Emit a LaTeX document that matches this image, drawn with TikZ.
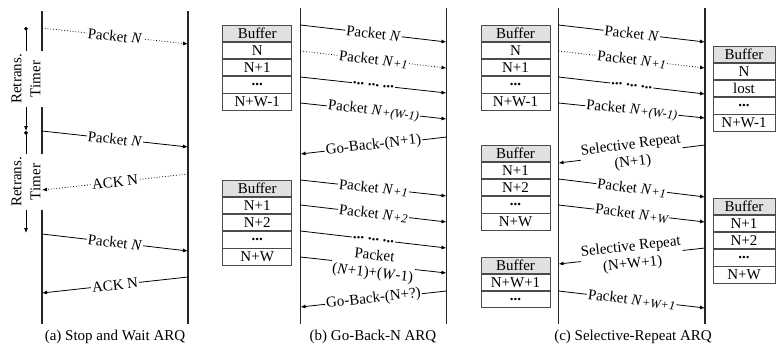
\documentclass[tikz,border=0pt]{standalone}
\usepackage{fontspec}
\setmainfont{Liberation Serif}
\usetikzlibrary{arrows.meta,positioning}
\newcommand\smi[1]{\raisebox{-0.8pt}{\fontsize{12.5}{13}\selectfont\itshape #1}}
\newcommand\dotgrp{{\bfseries ...\ ...\ ...}}
\begin{document}
\begin{tikzpicture}[x=1pt,y=-1pt,
  font=\rmfamily\fontsize{15}{16}\selectfont,
  life/.style={line width=1.2pt, black!85},
  msg/.style={line width=0.8pt, -{Latex[length=5pt,width=4pt]}},
  lbl/.style={sloped, fill=white, inner sep=1pt, midway},
  mlbl/.style={lbl, align=center, font=\rmfamily\fontsize{15}{17.5}\selectfont},
  timer/.style={line width=0.7pt, {Circle[length=3.6pt]}-{Latex[length=5pt,width=4pt]}},
  tlab/.style={rotate=90, fill=white, inner sep=3pt, align=center, midway, font=\rmfamily\fontsize{15}{19}\selectfont},
  cell/.style={draw=black!70, line width=0.9pt, minimum width=69pt, minimum height=16.2pt, inner sep=0pt, anchor=north},
  rcell/.style={cell, minimum width=62pt},
  hdr/.style={fill=black!12},
  captxt/.style={inner sep=0pt}]
\useasboundingbox (0,0) rectangle (776,349);

% ---------- lifelines ----------
\coordinate (aLt) at (42,11);  \coordinate (aLb) at (42,324);
\coordinate (aRt) at (188,11); \coordinate (aRb) at (188,324);
\coordinate (bLt) at (300.5,8); \coordinate (bLb) at (300.5,324);
\coordinate (bRt) at (446.5,8); \coordinate (bRb) at (446.5,324);
\coordinate (cLt) at (558.5,8); \coordinate (cLb) at (558.5,324);
\coordinate (cRt) at (705,8);   \coordinate (cRb) at (705,324);
\foreach \p in {aL,aR,bL,bR,cL,cR} \draw[life] (\p t) -- (\p b);

% ---------- (a) Stop and Wait ----------
\coordinate (t1a) at (26,27);  \coordinate (t1b) at (26,131);
\coordinate (t2a) at (26,131); \coordinate (t2b) at (26,233);
\draw[timer] (t1a) -- node[tlab]{Retrans.\\Timer} (t1b);
\draw[timer] (t2a) -- node[tlab]{Retrans.\\Timer} (t2b);

\coordinate (a1s) at (42,28);   \coordinate (a1e) at (188,44);
\coordinate (a2s) at (42,131);  \coordinate (a2e) at (188,147);
\coordinate (a3s) at (188,174); \coordinate (a3e) at (42,190);
\coordinate (a4s) at (42,234);  \coordinate (a4e) at (188,251);
\coordinate (a5s) at (188,277); \coordinate (a5e) at (42,293);
\draw[msg,dotted] (a1s) -- node[lbl]{Packet \textit{N}} (a1e);
\draw[msg] (a2s) -- node[lbl]{Packet \textit{N}} (a2e);
\draw[msg,dotted] (a3s) -- node[lbl]{ACK N} (a3e);
\draw[msg] (a4s) -- node[lbl]{Packet \textit{N}} (a4e);
\draw[msg] (a5s) -- node[lbl]{ACK N} (a5e);

% ---------- (b) Go-Back-N ----------
\node[cell,hdr] (bA0) at (257.2,25) {Buffer};
\node[cell,below=0pt of bA0] (bA1) {N};
\node[cell,below=0pt of bA1] (bA2) {N+1};
\node[cell,below=0pt of bA2] (bA3) {\bfseries ...};
\node[cell,below=0pt of bA3] (bA4) {N+W-1};

\node[cell,hdr] (bB0) at (257.2,180) {Buffer};
\node[cell,below=0pt of bB0] (bB1) {N+1};
\node[cell,below=0pt of bB1] (bB2) {N+2};
\node[cell,below=0pt of bB2] (bB3) {\bfseries ...};
\node[cell,below=0pt of bB3] (bB4) {N+W};

\coordinate (b1s) at (300.5,25);   \coordinate (b1e) at (446.5,42);
\coordinate (b2s) at (300.5,51);   \coordinate (b2e) at (446.5,68);
\coordinate (b3s) at (300.5,77);   \coordinate (b3e) at (446.5,93);
\coordinate (b4s) at (300.5,103);  \coordinate (b4e) at (446.5,119);
\coordinate (b5s) at (446.5,137);  \coordinate (b5e) at (300.5,154);
\coordinate (b6s) at (300.5,180);  \coordinate (b6e) at (446.5,196);
\coordinate (b7s) at (300.5,205);  \coordinate (b7e) at (446.5,222);
\coordinate (b8s) at (300.5,231);  \coordinate (b8e) at (446.5,248);
\coordinate (b9s) at (300.5,257);  \coordinate (b9e) at (446.5,273);
\coordinate (b10s) at (446.5,291); \coordinate (b10e) at (300.5,307);
\draw[msg] (b1s) -- node[lbl]{Packet \textit{N}} (b1e);
\draw[msg,dotted] (b2s) -- node[lbl]{Packet \textit{N}\smi{+1}} (b2e);
\draw[msg] (b3s) -- node[lbl]{\dotgrp} (b3e);
\draw[msg] (b4s) -- node[lbl]{Packet \textit{N}\smi{+(W-1)}} (b4e);
\draw[msg] (b5s) -- node[lbl]{Go-Back-(N+1)} (b5e);
\draw[msg] (b6s) -- node[lbl]{Packet \textit{N}\smi{+1}} (b6e);
\draw[msg] (b7s) -- node[lbl]{Packet \textit{N}\smi{+2}} (b7e);
\draw[msg] (b8s) -- node[lbl]{\dotgrp} (b8e);
\draw[msg] (b9s) -- node[mlbl]{Packet\\(\textit{N}+1)+(\textit{W}-1)} (b9e);
\draw[msg] (b10s) -- node[lbl]{Go-Back-(N+?)} (b10e);

% ---------- (c) Selective Repeat ----------
\node[cell,hdr] (cA0) at (515.5,25) {Buffer};
\node[cell,below=0pt of cA0] (cA1) {N};
\node[cell,below=0pt of cA1] (cA2) {N+1};
\node[cell,below=0pt of cA2] (cA3) {\bfseries ...};
\node[cell,below=0pt of cA3] (cA4) {N+W-1};

\node[cell,hdr] (cB0) at (515.5,145) {Buffer};
\node[cell,below=0pt of cB0] (cB1) {N+1};
\node[cell,below=0pt of cB1] (cB2) {N+2};
\node[cell,below=0pt of cB2] (cB3) {\bfseries ...};
\node[cell,below=0pt of cB3] (cB4) {N+W};

\node[cell,hdr] (cC0) at (515.5,257) {Buffer};
\node[cell,below=0pt of cC0] (cC1) {N+W+1};
\node[cell,below=0pt of cC1] (cC2) {\bfseries ...};

\node[rcell,hdr] (rA0) at (744,46) {Buffer};
\node[rcell,below=0pt of rA0] (rA1) {N};
\node[rcell,below=0pt of rA1] (rA2) {lost};
\node[rcell,below=0pt of rA2] (rA3) {\bfseries ...};
\node[rcell,below=0pt of rA3] (rA4) {N+W-1};

\node[rcell,hdr] (rB0) at (744,198) {Buffer};
\node[rcell,below=0pt of rB0] (rB1) {N+1};
\node[rcell,below=0pt of rB1] (rB2) {N+2};
\node[rcell,below=0pt of rB2] (rB3) {\bfseries ...};
\node[rcell,below=0pt of rB3] (rB4) {N+W};

\coordinate (c1s) at (558.5,25);  \coordinate (c1e) at (705,42);
\coordinate (c2s) at (558.5,51);  \coordinate (c2e) at (705,68);
\coordinate (c3s) at (558.5,77);  \coordinate (c3e) at (705,94);
\coordinate (c4s) at (558.5,103); \coordinate (c4e) at (705,118);
\coordinate (c5s) at (705,145);   \coordinate (c5e) at (558.5,163);
\coordinate (c6s) at (558.5,179); \coordinate (c6e) at (705,197);
\coordinate (c7s) at (558.5,205); \coordinate (c7e) at (705,222);
\coordinate (c8s) at (705,248);   \coordinate (c8e) at (558.5,264);
\coordinate (c9s) at (558.5,291); \coordinate (c9e) at (705,308);
\draw[msg] (c1s) -- node[lbl]{Packet \textit{N}} (c1e);
\draw[msg,dotted] (c2s) -- node[lbl]{Packet \textit{N}\smi{+1}} (c2e);
\draw[msg] (c3s) -- node[lbl]{\dotgrp} (c3e);
\draw[msg] (c4s) -- node[lbl]{Packet \textit{N}\smi{+(W-1)}} (c4e);
\draw[msg] (c5s) -- node[mlbl]{Selective Repeat\\(N+1)} (c5e);
\draw[msg] (c6s) -- node[lbl]{Packet \textit{N}\smi{+1}} (c6e);
\draw[msg] (c7s) -- node[lbl]{Packet \textit{N}\smi{+W}} (c7e);
\draw[msg] (c8s) -- node[mlbl]{Selective Repeat\\(N+W+1)} (c8e);
\draw[msg] (c9s) -- node[lbl]{Packet \textit{N}\smi{+W+1}} (c9e);

% ---------- captions ----------
\node[captxt] (capa) at (115,337) {(a) Stop and Wait ARQ};
\node[captxt] (capb) at (373,337) {(b) Go-Back-N ARQ};
\node[captxt] (capc) at (633,337) {(c) Selective-Repeat ARQ};
\end{tikzpicture}
\end{document}
